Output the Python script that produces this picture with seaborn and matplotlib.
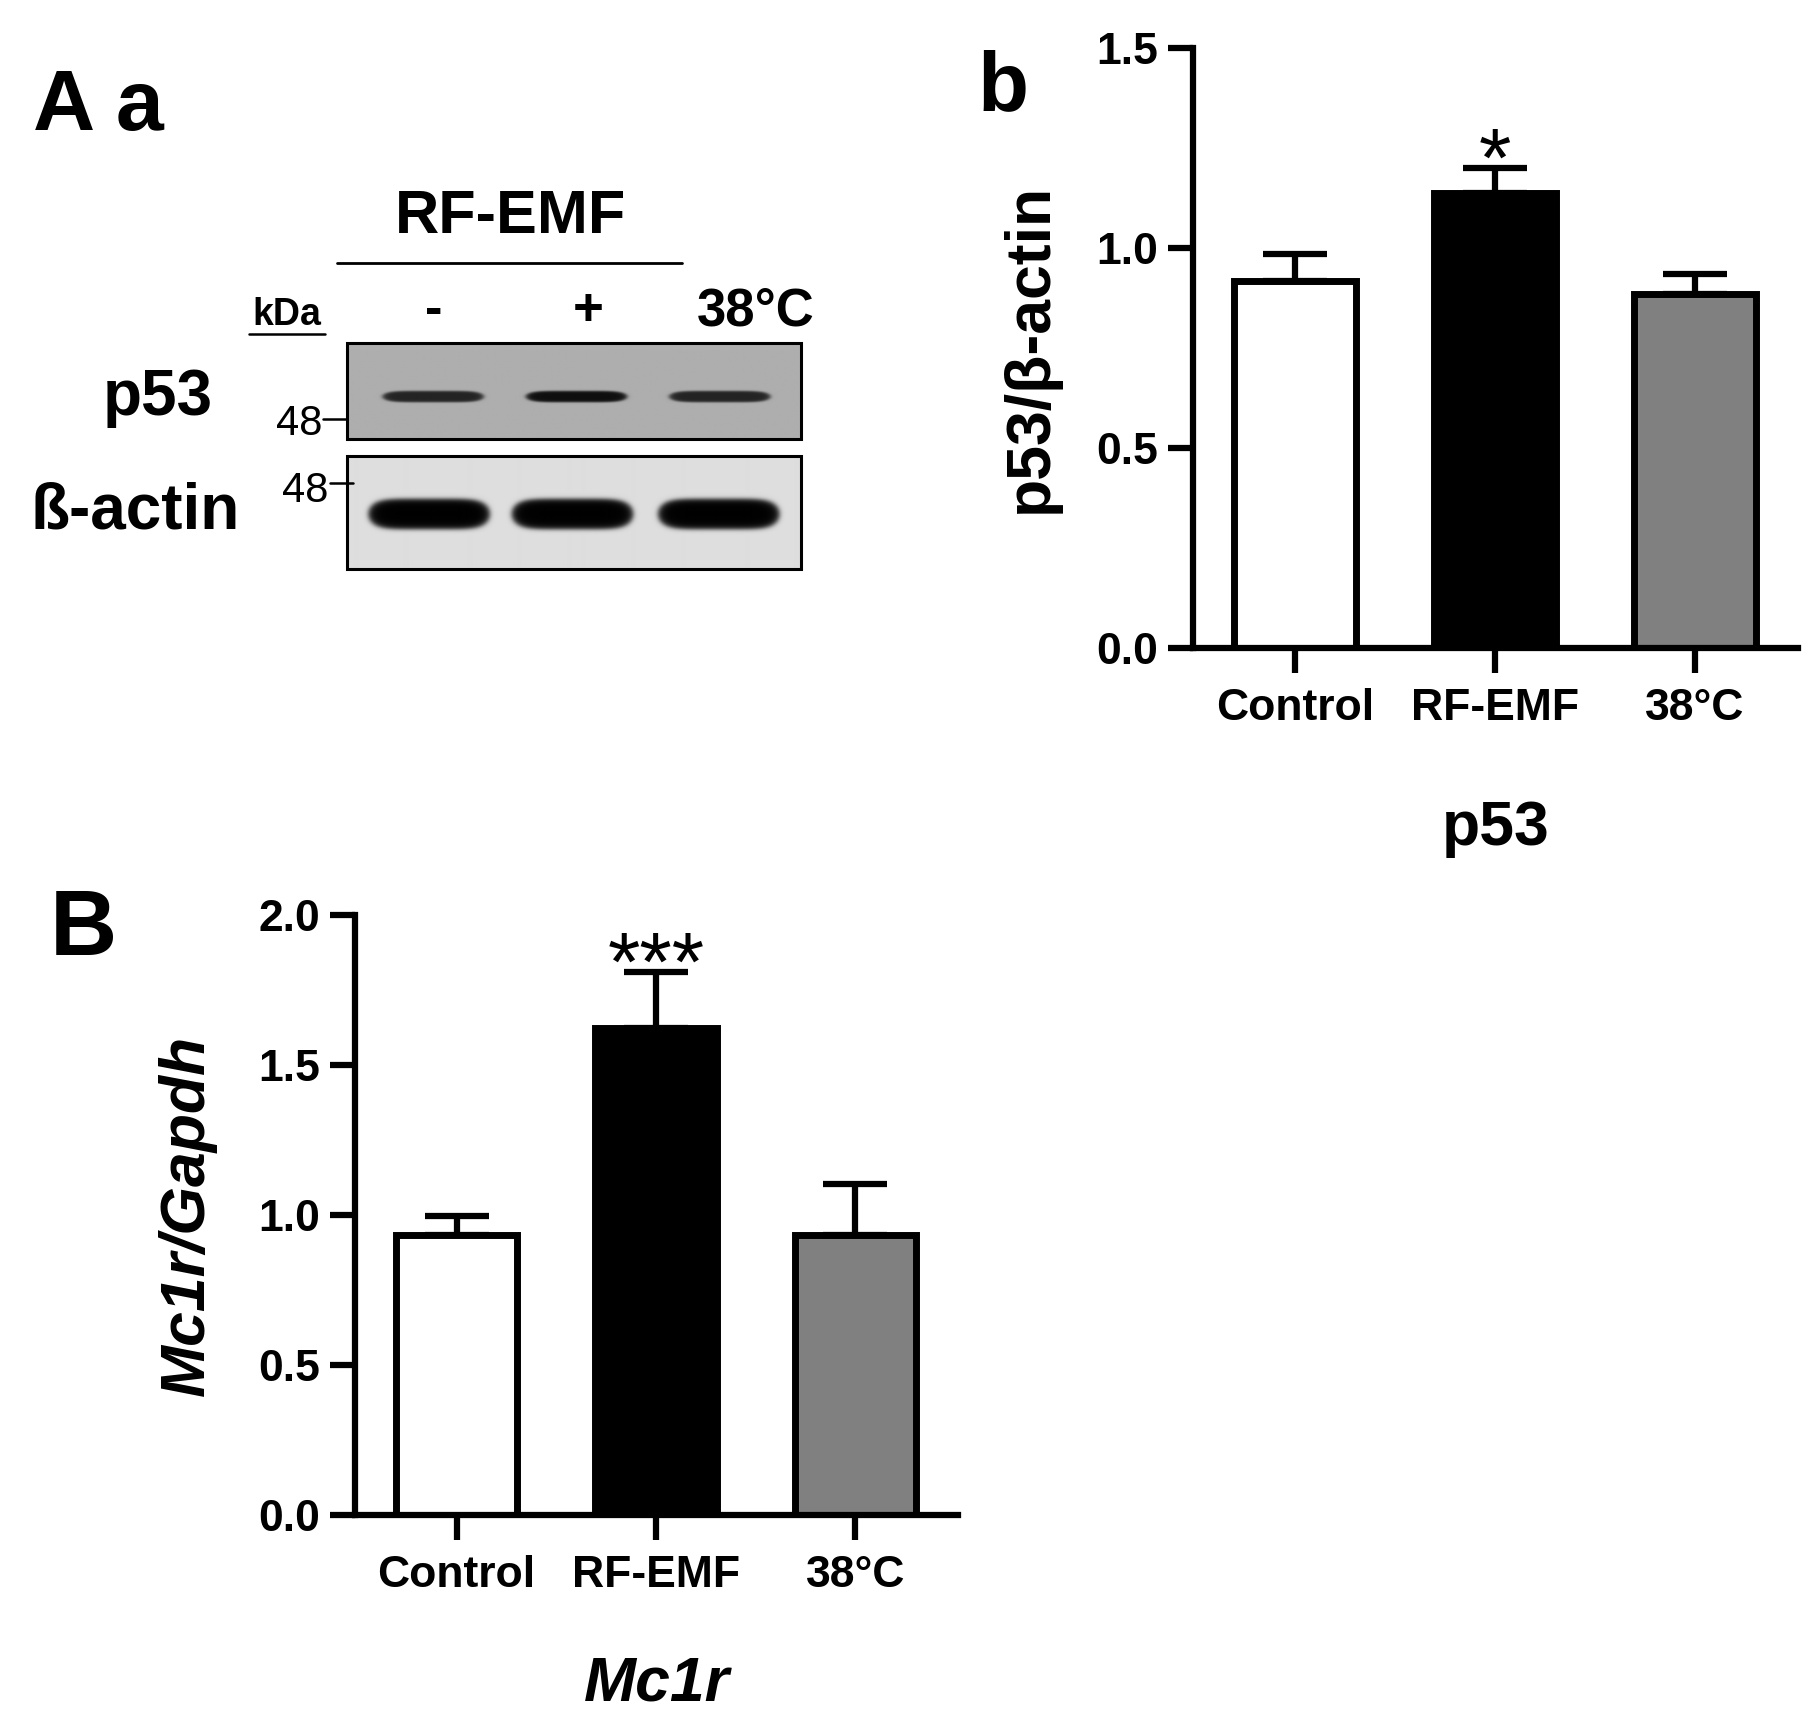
import numpy as np
import pandas as pd
import matplotlib
matplotlib.use('Agg')
import matplotlib.pyplot as plt
from matplotlib.patches import Rectangle
import seaborn as sns

# bar chart values
groups = ['Control', 'RF-EMF', '38°C']
bar_colors = ['#ffffff', '#000000', '#808080']
p53_mean = [0.917, 1.138, 0.886]
p53_sem = [0.068, 0.061, 0.048]
mc1r_mean = [0.932, 1.623, 0.932]
mc1r_sem = [0.065, 0.187, 0.172]

# western blot lanes and relative band darkness
lane_labels = ['-', '+', '38°C']
p53_band = [0.80, 0.92, 0.80]
actin_band = [1.0, 1.0, 1.0]

sns.set_style('ticks')
plt.rcParams['font.family'] = ['Liberation Sans', 'DejaVu Sans']
plt.rcParams['font.weight'] = 'bold'
for k in ['text.color', 'axes.labelcolor', 'xtick.color', 'ytick.color', 'axes.edgecolor']:
    plt.rcParams[k] = 'black'

fig = plt.figure(figsize=(18.19, 17.17), dpi=100)

# overlay axes in pixel coordinates for the blot panel and panel letters
ov = fig.add_axes([0, 0, 1, 1])
ov.set_xlim(0, 1819)
ov.set_ylim(1717, 0)
ov.axis('off')

def blot(ax, x0, x1, y0, y1, bg, centers, halfw, yc, halfh, peaks):
    xs = np.arange(x0, x1) + 0.5
    ys = np.arange(y0, y1) + 0.5
    X, Y = np.meshgrid(xs, ys)
    dark = np.zeros_like(X)
    for c, p in zip(centers, peaks):
        r = ((X - c) / halfw) ** 6 + ((Y - yc) / halfh) ** 2
        dark = np.maximum(dark, p / (1 + np.exp((r - 1) / 0.18)))
    img = bg * (1 - dark)
    ax.imshow(img, cmap='gray', vmin=0, vmax=1, extent=(x0, x1, y1, y0),
              interpolation='bilinear', aspect='auto', zorder=1)
    ax.add_patch(Rectangle((x0, y0), x1 - x0, y1 - y0, fill=False,
                           edgecolor='black', linewidth=2.2, zorder=2))

blot(ov, 347, 801, 343, 439, 0.68, [433, 576, 719], 50, 397, 5.5, p53_band)
blot(ov, 347, 801, 456, 569, 0.87, [429, 572, 718], 60, 514, 15, actin_band)

ov.set_xlim(0, 1819)
ov.set_ylim(1717, 0)

ov.text(33, 130, 'A a', fontsize=62, fontweight='bold', ha='left', va='baseline')
ov.text(510, 233, 'RF-EMF', fontsize=44, fontweight='bold', ha='center', va='baseline')
ov.plot([337, 682], [263, 263], color='black', linewidth=2)
ov.text(287, 325, 'kDa', fontsize=27, fontweight='bold', ha='center', va='baseline')
ov.plot([249, 325], [334, 334], color='black', linewidth=1.8)
for xc, lab in zip([434, 588, 756], lane_labels):
    ov.text(xc, 325, lab, fontsize=38, fontweight='bold', ha='center', va='baseline')
ov.text(158, 415, 'p53', fontsize=46, fontweight='bold', ha='center', va='baseline')
ov.text(135, 528, 'ß-actin', fontsize=46, fontweight='bold', ha='center', va='baseline')
ov.text(322, 435, '48', fontsize=30, fontweight='normal', ha='right', va='baseline')
ov.plot([323, 347], [419, 419], color='black', linewidth=1.8)
ov.text(328, 502, '48', fontsize=30, fontweight='normal', ha='right', va='baseline')
ov.plot([330, 353], [483, 483], color='black', linewidth=1.8)

ov.text(977, 110, 'b', fontsize=60, fontweight='bold', ha='left', va='baseline')
ov.text(50, 955, 'B', fontsize=67, fontweight='bold', ha='left', va='baseline')


def bar_panel(rect, means, sems, ymax, ylabel, xlabel, stars, star_y, italic, xpad, ypad):
    ax = fig.add_axes(rect)
    df = pd.DataFrame({'group': groups, 'value': means})
    sns.barplot(data=df, x='group', y='value', hue='group', palette=bar_colors,
                edgecolor='black', linewidth=5, width=0.61, errorbar=None,
                legend=False, ax=ax, zorder=2)
    ax.errorbar(range(len(groups)), means, yerr=[[0] * len(groups), sems],
                fmt='none', ecolor='black', elinewidth=4.5, capsize=23,
                capthick=4.5, zorder=3)
    ax.set_xlim(-0.51, 2.515)
    ax.set_ylim(0, ymax)
    ax.set_yticks(np.arange(0, ymax + 0.01, 0.5))
    ax.set_yticklabels([f'{v:.1f}' for v in np.arange(0, ymax + 0.01, 0.5)])
    sns.despine(ax=ax)
    for s in ['left', 'bottom']:
        ax.spines[s].set_linewidth(4.5)
        ax.spines[s].set_color('black')
    ax.tick_params(axis='both', width=4.5, length=18, labelsize=32, colors='black')
    ax.tick_params(axis='x', pad=11)
    ax.tick_params(axis='y', pad=7)
    for t in ax.get_xticklabels() + ax.get_yticklabels():
        t.set_fontweight('bold')
    style = 'italic' if italic else 'normal'
    ax.set_ylabel(ylabel, fontsize=45, fontweight='bold', fontstyle=style, labelpad=ypad)
    ax.set_xlabel(xlabel, fontsize=45, fontweight='bold', fontstyle=style, labelpad=xpad)
    ax.text(1, star_y, stars, fontsize=60, fontweight='normal', ha='center', va='top')
    ax.patch.set_alpha(0)
    return ax


bar_panel([1193 / 1819, 1 - 648 / 1717, 605 / 1819, 600 / 1717],
          p53_mean, p53_sem, 1.5, 'p53/β-actin', 'p53', '*', 1.307, False, 50, 26)
bar_panel([355 / 1819, 1 - 1515 / 1717, 603 / 1819, 600 / 1717],
          mc1r_mean, mc1r_sem, 2.0, 'Mc1r/Gapdh', 'Mc1r', '***', 1.95, True, 42, 30)

fig.savefig('out.png', dpi=100)
